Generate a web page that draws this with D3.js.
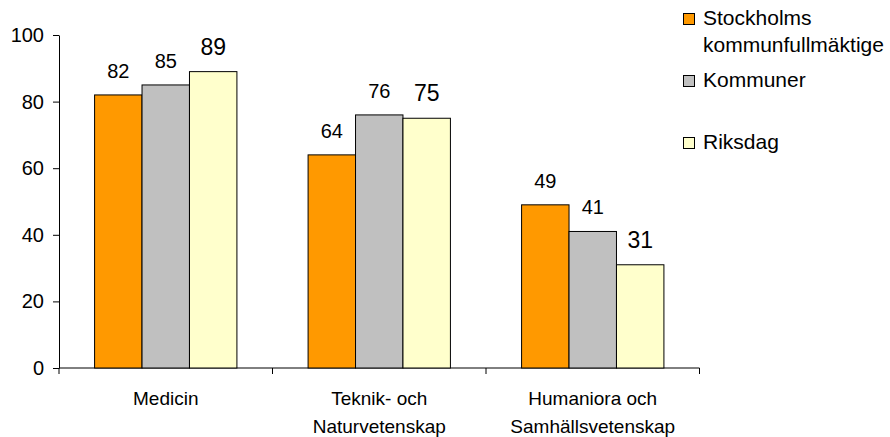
<!DOCTYPE html>
<html>
  <head>
    <meta charset="utf-8">
    <style>
      body { margin: 0; background: #fff; font-family: 'Liberation Sans', Arial, sans-serif; }
      .axis path, .axis line { stroke: #000; }
      .axis text { font-family: 'Liberation Sans', Arial, sans-serif; fill: #000; }
    </style>
  </head>
  <body>
    <div class="chart"></div>
    <script src="https://d3js.org/d3.v7.min.js"></script>
    <script>
      // data
      var categories = [["Medicin"], ["Teknik- och", "Naturvetenskap"], ["Humaniora och", "Samhällsvetenskap"]];
      var seriesNames = [["Stockholms", "kommunfullmäktige"], ["Kommuner"], ["Riksdag"]];
      var stockholm = [82, 64, 49];
      var kommuner = [85, 76, 41];
      var riksdag = [89, 75, 31];
      var yTicks = [0, 20, 40, 60, 80, 100];

      var colors = ["#FF9900", "#C0C0C0", "#FFFFCC"];
      var labelSize = [20, 20, 23];
      var series = [stockholm, kommuner, riksdag];

      var svg = d3.select(".chart").append("svg")
        .attr("width", 890)
        .attr("height", 437);

      var plotLeft = 59, plotRight = 699.5, plotTop = 35, plotBottom = 368;

      var x = d3.scaleBand().domain(d3.range(categories.length)).range([plotLeft, plotRight]).paddingInner(0).paddingOuter(0);
      var bandW = x.bandwidth();
      var barW = bandW / (3 + 1.5);
      var y = d3.scaleLinear().domain([0, 100]).range([plotBottom, plotTop]);

      // y axis
      var gY = svg.append("g").attr("class", "axis")
        .attr("transform", "translate(" + plotLeft + ",0)")
        .call(d3.axisLeft(y).tickValues(yTicks).tickSizeInner(6).tickSizeOuter(0).tickPadding(9));
      gY.selectAll("text").style("font-size", "20px");

      // x axis with ticks between categories
      var gX = svg.append("g").attr("class", "axis")
        .attr("transform", "translate(0," + plotBottom + ")");
      gX.append("line").attr("x1", plotLeft).attr("x2", plotRight).attr("y1", 0).attr("y2", 0).attr("stroke", "#000");
      gX.selectAll(".tk").data(d3.range(categories.length + 1)).enter().append("line")
        .attr("x1", function(d) { return plotLeft + d * bandW; })
        .attr("x2", function(d) { return plotLeft + d * bandW; })
        .attr("y1", 0).attr("y2", 6).attr("stroke", "#000");

      // category labels
      svg.selectAll(".cat").data(categories).enter().append("text")
        .attr("class", "cat")
        .attr("text-anchor", "middle")
        .style("font-size", "19px")
        .each(function(d, i) {
          var t = d3.select(this);
          d.forEach(function(line, j) {
            t.append("tspan").attr("x", x(i) + bandW / 2).attr("y", 405 + j * 28).text(line);
          });
        });

      // bars
      series.forEach(function(vals, s) {
        var g = svg.append("g");
        g.selectAll("rect").data(vals).enter().append("rect")
          .attr("x", function(d, i) { return x(i) + barW * 0.75 + s * barW; })
          .attr("y", function(d) { return y(d); })
          .attr("width", barW)
          .attr("height", function(d) { return y(0) - y(d); })
          .attr("fill", colors[s])
          .attr("stroke", "#000")
          .attr("stroke-width", 1);
        g.selectAll("text").data(vals).enter().append("text")
          .attr("x", function(d, i) { return x(i) + barW * 0.75 + s * barW + barW / 2; })
          .attr("y", function(d) { return y(d) - 17; })
          .attr("text-anchor", "middle")
          .style("font-size", labelSize[s] + "px")
          .text(function(d) { return d; });
      });

      // legend
      var legendY = [25, 87, 149];
      var legend = svg.selectAll(".leg").data(seriesNames).enter().append("g")
        .attr("transform", function(d, i) { return "translate(683," + legendY[i] + ")"; });
      legend.append("rect")
        .attr("x", 0.5).attr("y", -11.5).attr("width", 11).attr("height", 11)
        .attr("fill", function(d, i) { return colors[i]; })
        .attr("stroke", "#000");
      legend.append("text")
        .style("font-size", "21px")
        .each(function(d) {
          var t = d3.select(this);
          d.forEach(function(line, j) {
            t.append("tspan").attr("x", 20).attr("y", j * 27).text(line);
          });
        });
    </script>
  </body>
</html>
